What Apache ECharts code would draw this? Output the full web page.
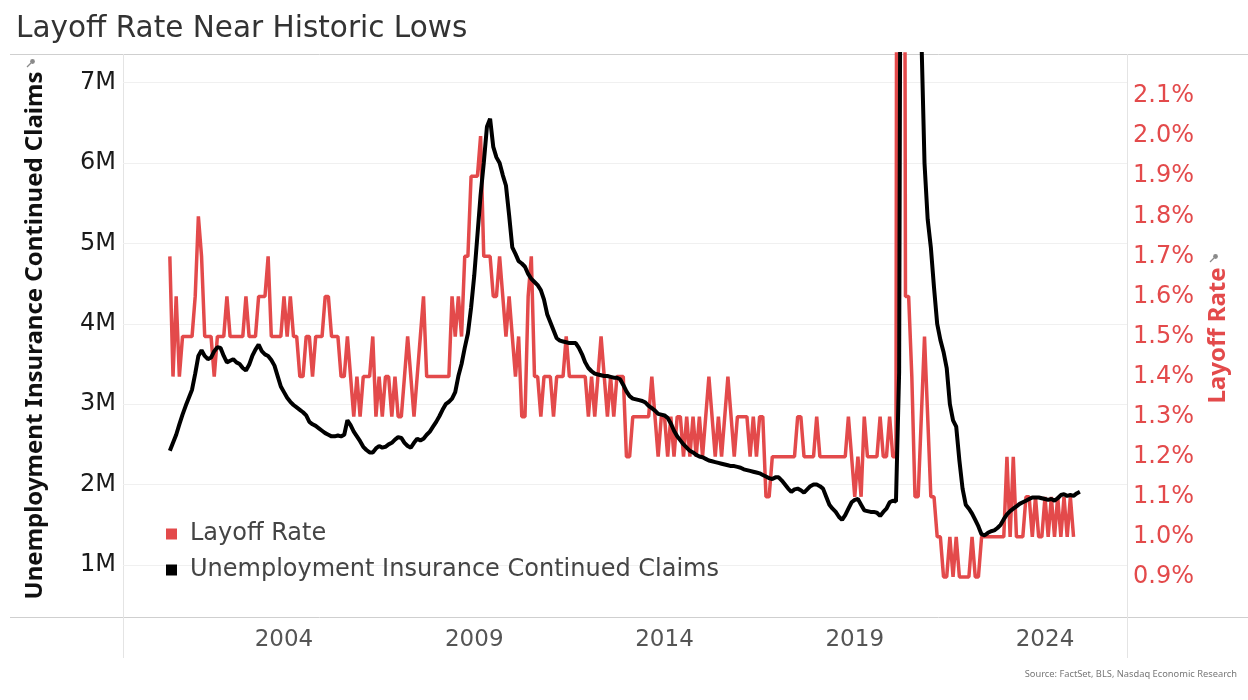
<!DOCTYPE html>
<html><head><meta charset="utf-8">
<script src="https://cdn.jsdelivr.net/npm/echarts@6/dist/echarts.min.js"></script>
<style>html,body{margin:0;padding:0;background:#fff}#chart{width:1248px;height:700px}</style>
</head><body><div id="chart"></div>
<script>
// Monthly data, starting January 2001
const startYear = 2001;
// Layoff rate, % (JOLTS), Jan 2001 .. Oct 2024
const layoffRate = [
  1.7,1.4,1.6,1.4,1.5,1.5,1.5,1.5,1.6,1.8,1.7,1.5, // 2001
  1.5,1.5,1.4,1.5,1.5,1.5,1.6,1.5,1.5,1.5,1.5,1.5, // 2002
  1.6,1.5,1.5,1.5,1.6,1.6,1.6,1.7,1.5,1.5,1.5,1.5, // 2003
  1.6,1.5,1.6,1.5,1.5,1.4,1.4,1.5,1.5,1.4,1.5,1.5, // 2004
  1.5,1.6,1.6,1.5,1.5,1.5,1.4,1.4,1.5,1.4,1.3,1.4, // 2005
  1.3,1.4,1.4,1.4,1.5,1.3,1.4,1.3,1.4,1.4,1.3,1.4, // 2006
  1.3,1.3,1.4,1.5,1.4,1.3,1.4,1.5,1.6,1.4,1.4,1.4, // 2007
  1.4,1.4,1.4,1.4,1.4,1.6,1.5,1.6,1.5,1.7,1.7,1.9, // 2008
  1.9,1.9,2.0,1.7,1.7,1.7,1.6,1.6,1.7,1.6,1.5,1.6, // 2009
  1.5,1.4,1.5,1.3,1.3,1.6,1.7,1.4,1.4,1.3,1.4,1.4, // 2010
  1.4,1.3,1.4,1.4,1.4,1.5,1.4,1.4,1.4,1.4,1.4,1.4, // 2011
  1.3,1.4,1.3,1.4,1.5,1.4,1.3,1.4,1.3,1.4,1.4,1.4, // 2012
  1.2,1.2,1.3,1.3,1.3,1.3,1.3,1.3,1.4,1.3,1.2,1.3, // 2013
  1.3,1.2,1.3,1.2,1.3,1.3,1.2,1.3,1.2,1.3,1.2,1.3, // 2014
  1.2,1.3,1.4,1.3,1.2,1.3,1.2,1.3,1.4,1.3,1.2,1.3, // 2015
  1.3,1.3,1.3,1.2,1.3,1.2,1.3,1.3,1.1,1.1,1.2,1.2, // 2016
  1.2,1.2,1.2,1.2,1.2,1.2,1.3,1.3,1.2,1.2,1.2,1.2, // 2017
  1.3,1.2,1.2,1.2,1.2,1.2,1.2,1.2,1.2,1.2,1.3,1.2, // 2018
  1.1,1.2,1.1,1.3,1.2,1.2,1.2,1.2,1.3,1.2,1.2,1.3, // 2019
  1.2,1.2,7.5,5.9,1.6,1.6,1.4,1.1,1.1,1.3,1.5,1.3, // 2020
  1.1,1.1,1.0,1.0,0.9,0.9,1.0,0.9,1.0,0.9,0.9,0.9, // 2021
  0.9,1.0,0.9,0.9,1.0,1.0,1.0,1.0,1.0,1.0,1.0,1.0, // 2022
  1.2,1.0,1.2,1.0,1.0,1.0,1.1,1.1,1.0,1.1,1.0,1.0, // 2023
  1.1,1.0,1.1,1.0,1.1,1.0,1.1,1.0,1.1,1.0          // 2024
];
// Unemployment insurance continued claims, millions, Jan 2001 .. Dec 2024
const continuedClaims = [
  2.42,2.52,2.62,2.75,2.87,2.98,3.08,3.18,3.38,3.60,3.67,3.60, // 2001
  3.56,3.58,3.66,3.71,3.70,3.60,3.52,3.54,3.56,3.52,3.50,3.45, // 2002
  3.42,3.49,3.60,3.68,3.74,3.66,3.62,3.60,3.55,3.48,3.35,3.22, // 2003
  3.15,3.08,3.03,2.99,2.96,2.93,2.90,2.86,2.78,2.75,2.73,2.70, // 2004
  2.67,2.64,2.62,2.60,2.60,2.61,2.60,2.62,2.80,2.74,2.66,2.60, // 2005
  2.54,2.47,2.43,2.40,2.40,2.45,2.48,2.46,2.47,2.50,2.52,2.56, // 2006
  2.59,2.58,2.52,2.48,2.46,2.52,2.57,2.55,2.57,2.62,2.66,2.72, // 2007
  2.78,2.85,2.93,3.00,3.03,3.07,3.15,3.35,3.50,3.70,3.88,4.20, // 2008
  4.60,5.10,5.60,6.00,6.45,6.55,6.20,6.07,6.00,5.85,5.72,5.35, // 2009
  4.95,4.87,4.78,4.75,4.71,4.62,4.56,4.52,4.48,4.42,4.30,4.12, // 2010
  4.02,3.92,3.82,3.79,3.78,3.77,3.76,3.76,3.76,3.70,3.62,3.52, // 2011
  3.45,3.41,3.38,3.37,3.36,3.35,3.35,3.34,3.33,3.33,3.31,3.24, // 2012
  3.16,3.10,3.07,3.06,3.05,3.04,3.02,2.98,2.95,2.92,2.88,2.87, // 2013
  2.86,2.83,2.76,2.67,2.60,2.55,2.50,2.46,2.42,2.40,2.37,2.35, // 2014
  2.34,2.32,2.30,2.29,2.28,2.27,2.26,2.25,2.24,2.23,2.23,2.22, // 2015
  2.21,2.19,2.18,2.17,2.16,2.15,2.14,2.12,2.10,2.08,2.07,2.09, // 2016
  2.09,2.05,2.00,1.95,1.91,1.94,1.95,1.93,1.90,1.94,1.98,2.00, // 2017
  2.00,1.98,1.95,1.85,1.75,1.70,1.66,1.60,1.56,1.62,1.70,1.78, // 2018
  1.81,1.82,1.75,1.68,1.67,1.66,1.66,1.65,1.61,1.66,1.70,1.78, // 2019
  1.80,1.79,3.40,17.0,20.8,18.5,16.5,14.2,11.6,7.60,6.00,5.30, // 2020
  4.95,4.45,4.00,3.80,3.65,3.45,3.00,2.80,2.72,2.30,1.95,1.75, // 2021
  1.70,1.64,1.56,1.48,1.38,1.37,1.40,1.42,1.43,1.46,1.50,1.57, // 2022
  1.63,1.67,1.70,1.73,1.76,1.78,1.80,1.82,1.84,1.84,1.84,1.83, // 2023
  1.82,1.81,1.82,1.80,1.83,1.87,1.88,1.86,1.87,1.86,1.89,1.91  // 2024
];
const leftTicks = [1, 2, 3, 4, 5, 6, 7];
const rightTicks = [0.9, 1.0, 1.1, 1.2, 1.3, 1.4, 1.5, 1.6, 1.7, 1.8, 1.9, 2.0, 2.1];
const yearLabels = [2004, 2009, 2014, 2019, 2024];

const RED = '#e34a4b';
// x position as fractional year (month i -> startYear + i/12)
function monthX(i) { return startYear + i / 12; }
const rateData = layoffRate.map((v, i) => [monthX(i), v]);
const claimsData = continuedClaims.map((v, i) => [monthX(i), v]);

function pin(x, y) {
  return {
    type: 'group', x: x, y: y, silent: true,
    children: [
      {type: 'line', shape: {x1: 0, y1: 0, x2: -4, y2: 4}, style: {stroke: '#8a8a8a', lineWidth: 1.2}},
      {type: 'circle', shape: {cx: 1.5, cy: -1.5, r: 2.4}, style: {fill: '#8a8a8a'}}
    ]
  };
}

const chart = echarts.init(document.getElementById('chart'), null, {renderer: 'canvas'});
chart.setOption({
  animation: false,
  backgroundColor: '#fff',
  title: {
    text: 'Layoff Rate Near Historic Lows', left: 11, top: 9,
    textStyle: {fontFamily: 'DejaVu Sans', fontSize: 29.5, fontWeight: 'normal', color: '#333'}
  },
  grid: {left: 123, right: 121, top: 54, bottom: 83},
  legend: {
    orient: 'vertical', left: 161, top: 511, itemWidth: 11, itemHeight: 11, itemGap: 0,
    icon: 'rect',
    data: ['Layoff Rate', 'Unemployment Insurance Continued Claims'],
    textStyle: {fontFamily: 'DejaVu Sans', fontSize: 24, color: '#444', lineHeight: 36, padding: [0, 0, 0, 8]}
  },
  xAxis: {
    type: 'value',
    min: 1999.769, max: 2026.155,
    axisLine: {show: false},
    axisTick: {show: false, customValues: yearLabels},
    splitLine: {show: false},
    axisLabel: {
      customValues: yearLabels,
      formatter: v => String(Math.round(v)),
      color: '#555', fontSize: 23, margin: 12, fontFamily: 'DejaVu Sans'
    }
  },
  yAxis: [
    {
      type: 'value', position: 'left', min: 0.353, max: 7.356,
      name: 'Unemployment Insurance Continued Claims', nameLocation: 'middle', nameRotate: 90, nameGap: 76,
      nameTextStyle: {fontFamily: 'Noto Sans', fontSize: 24, fontWeight: 'bold', color: '#111'},
      axisLine: {show: false},
      axisTick: {show: false, customValues: leftTicks},
      axisLabel: {customValues: leftTicks, formatter: v => Math.round(v) + 'M', color: '#1a1a1a', fontSize: 24, margin: 7, fontFamily: 'DejaVu Sans'},
      splitLine: {show: true, lineStyle: {color: '#f0f0f0', width: 1}}
    },
    {
      type: 'value', position: 'right', min: 0.8, max: 2.205,
      name: 'Layoff Rate', nameLocation: 'middle', nameRotate: 90, nameGap: 79,
      nameTextStyle: {fontFamily: 'Noto Sans', fontSize: 24, fontWeight: 'bold', color: RED},
      axisLine: {show: false},
      axisTick: {show: false, customValues: rightTicks},
      axisLabel: {customValues: rightTicks, formatter: v => v.toFixed(1) + '%', color: RED, fontSize: 24, margin: 6, fontFamily: 'DejaVu Sans'},
      splitLine: {show: false}
    }
  ],
  series: [
    {
      name: 'Layoff Rate', type: 'line', yAxisIndex: 1, data: rateData,
      showSymbol: false, symbol: 'none', clip: true,
      lineStyle: {color: RED, width: 3.5}, itemStyle: {color: RED}, z: 2
    },
    {
      name: 'Unemployment Insurance Continued Claims', type: 'line', yAxisIndex: 0, data: claimsData,
      showSymbol: false, symbol: 'none', clip: true,
      lineStyle: {color: '#000', width: 4}, itemStyle: {color: '#000'}, z: 3
    }
  ],
  graphic: [
    {type: 'line', silent: true, shape: {x1: 10, y1: 54.5, x2: 1248, y2: 54.5}, style: {stroke: '#cfcfcf', lineWidth: 1}},
    {type: 'line', silent: true, shape: {x1: 10, y1: 617.5, x2: 1248, y2: 617.5}, style: {stroke: '#cfcfcf', lineWidth: 1}},
    {type: 'line', silent: true, shape: {x1: 123.5, y1: 54, x2: 123.5, y2: 658}, style: {stroke: '#e4e4e4', lineWidth: 1}},
    {type: 'line', silent: true, shape: {x1: 1127.5, y1: 54, x2: 1127.5, y2: 658}, style: {stroke: '#e4e4e4', lineWidth: 1}},
    pin(31, 63),
    pin(1214, 258),
    {type: 'text', right: 11, top: 670, silent: true,
     style: {text: 'Source: FactSet, BLS, Nasdaq Economic Research', fontSize: 9.3, fill: '#777', fontFamily: 'Noto Sans'}}
  ]
});
</script>
</body></html>
